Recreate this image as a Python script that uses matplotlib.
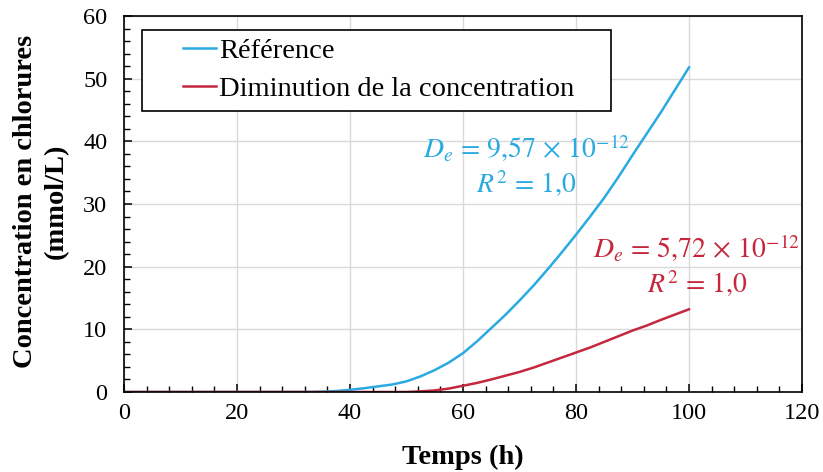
import numpy as np
import matplotlib.pyplot as plt
from matplotlib.ticker import MultipleLocator

# data
temps_ref = [0, 10, 20, 30, 32.5, 35, 37.5, 40, 42.5, 45, 47.5, 50, 52.5, 55, 57.5, 60,
             62.5, 65, 67.5, 70, 72.5, 75, 77.5, 80, 82.5, 85, 87.5, 90, 92.5, 95, 97.5, 100]
conc_ref = [0, 0, 0, 0, 0, 0.05, 0.15, 0.35, 0.6, 0.9, 1.2, 1.7, 2.5, 3.5, 4.7, 6.2,
            8.1, 10.2, 12.3, 14.6, 17.0, 19.6, 22.3, 25.1, 28.0, 31.0, 34.3, 37.8, 41.2, 44.6, 48.2, 51.8]

temps_dim = [0, 10, 20, 30, 40, 50, 52.5, 55, 57.5, 60, 62.5, 65, 67.5, 70, 72.5, 75,
             77.5, 80, 82.5, 85, 87.5, 90, 92.5, 95, 97.5, 100]
conc_dim = [0, 0, 0, 0, 0, 0, 0.1, 0.25, 0.55, 1.0, 1.45, 2.0, 2.6, 3.2, 3.9, 4.7,
            5.5, 6.3, 7.1, 8.0, 8.9, 9.8, 10.6, 11.5, 12.35, 13.2]

labels = ["Référence", "Diminution de la concentration"]
blue = "#2AAAE1"
red = "#C5283D"

plt.rcParams['font.family'] = ['Liberation Serif', 'DejaVu Serif']
plt.rcParams['mathtext.fontset'] = 'stix'

fig = plt.figure(figsize=(8.23, 4.72), dpi=100)
ax = fig.add_axes([0.1507, 0.1695, 0.8238, 0.7966])

ax.plot(temps_ref, conc_ref, color=blue, lw=1.8, label=labels[0])
ax.plot(temps_dim, conc_dim, color=red, lw=1.8, label=labels[1])

ax.set_xlim(0, 120)
ax.set_ylim(0, 60)
ax.xaxis.set_major_locator(MultipleLocator(20))
ax.xaxis.set_minor_locator(MultipleLocator(4))
ax.yaxis.set_major_locator(MultipleLocator(10))
ax.yaxis.set_minor_locator(MultipleLocator(2))
ax.grid(True, which='major', color='#D9D9D9', lw=1.0)
ax.set_axisbelow(True)
ax.tick_params(which='both', direction='in', labelsize=17.5, colors='black')
ax.tick_params(which='major', length=6, width=1.1)
ax.tick_params(which='minor', length=4, width=1.0)
ax.tick_params(axis='y', pad=12)
ax.tick_params(axis='x', pad=8)
for s in ax.spines.values():
    s.set_linewidth(1.2)

ax.set_xlabel("Temps (h)", fontsize=20.5, fontweight='bold', labelpad=15)
fig.text(0.05, 0.574, "Concentration en chlorures\n(mmol/L)", rotation=90,
         ha='center', va='center', fontsize=20.5, fontweight='bold', linespacing=1.3)

ax.text(71.2, 36.1, r"$D_e\,=\,9{,}57\,\times\,10^{-12}$" + "\n" + r"$R^2\,=\,1{,}0$",
        color=blue, fontsize=20, ha='center', va='center', linespacing=1.15)
ax.text(101.4, 20.1, r"$D_e\,=\,5{,}72\,\times\,10^{-12}$" + "\n" + r"$R^2\,=\,1{,}0$",
        color=red, fontsize=20, ha='center', va='center', linespacing=1.15)

leg = ax.legend(loc='upper left', bbox_to_anchor=(0.026, 0.963, 0.692, 0.0), mode='expand',
                borderaxespad=0, fancybox=False, edgecolor='black', fontsize=20.5,
                handlelength=2.3, handletextpad=0.12, borderpad=0.3, labelspacing=0.42,
                framealpha=1)
leg.get_frame().set_linewidth(1.2)
# only the right part of each legend handle is drawn, as in the reference
for ln in leg.get_lines():
    xd = np.asarray(ln.get_xdata(), dtype=float)
    yd = np.asarray(ln.get_ydata(), dtype=float)
    x0, x1 = xd.min(), xd.max()
    ln.set_data([x0 + 0.5 * (x1 - x0), x1], [yd[0], yd[0]])

plt.savefig("out.png", dpi=100)
